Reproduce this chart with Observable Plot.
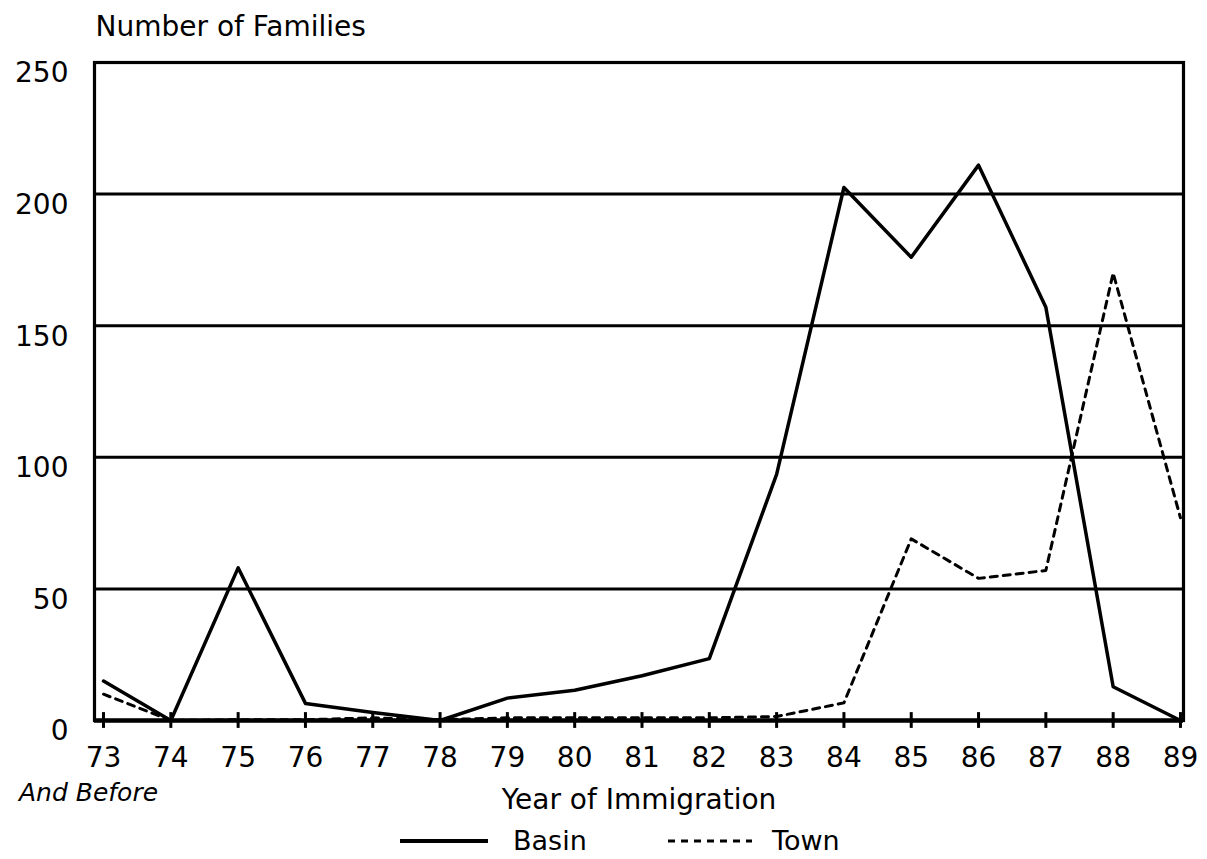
<!DOCTYPE html>
<html>
<head>
<meta charset="utf-8">
<script src="https://cdn.jsdelivr.net/npm/d3@7"></script>
<script src="https://cdn.jsdelivr.net/npm/@observablehq/plot@0.6"></script>
<style>
  html, body { margin: 0; padding: 0; background: #fff; }
  #wrap { position: relative; width: 1207px; height: 859px; overflow: hidden; font-family: "DejaVu Sans", sans-serif; }
  #legend { position: absolute; left: 0; top: 822px; width: 1207px; height: 37px; }
  .lg-item { position: absolute; top: 0; height: 37px; display: flex; align-items: center; font-size: 27px; color: #000; }
</style>
</head>
<body>
<div id="wrap">
  <div id="chart"></div>
  <div id="legend"></div>
</div>
<script>
// ---- data ----
const years = [73, 74, 75, 76, 77, 78, 79, 80, 81, 82, 83, 84, 85, 86, 87, 88, 89];
const basin = [15, 0, 58, 6.5, 3, 0, 8.5, 11.5, 17, 23.5, 93.5, 202.5, 176, 211, 157, 12.8, 0];
const town  = [10, 0, 0.3, 0.3, 1, 0.3, 1, 1, 1, 1, 1.5, 6.7, 69, 54, 57, 170, 77];
const yTicks = [0, 50, 100, 150, 200, 250];
const xTickLabels = ["73", "74", "75", "76", "77", "78", "79", "80", "81", "82", "83", "84", "85", "86", "87", "88", "89"];
const seriesNames = ["Basin", "Town"];
const yTitle = "Number of Families";
const xTitle = "Year of Immigration";
const firstYearNote = "And Before";

const table = years.map((yr, i) => ({year: yr, basin: basin[i], town: town[i]}));

const chart = Plot.plot({
  width: 1207,
  height: 822,
  marginLeft: 94,
  marginRight: 24,
  marginTop: 62,
  marginBottom: 102,
  x: {domain: [72.866, 89.045]},
  y: {domain: [0, 250]},
  style: {fontFamily: "'DejaVu Sans', sans-serif", color: "#000", background: "#fff", overflow: "visible"},
  marks: [
    Plot.ruleY(yTicks.slice(1, -1), {stroke: "#000", strokeWidth: 3}),
    Plot.frame({stroke: "#000", strokeWidth: 3.2}),
    Plot.ruleY([0], {stroke: "#000", strokeWidth: 4.5}),
    Plot.ruleX(years, {y1: -3, y2: 3, stroke: "#000", strokeWidth: 3}),
    Plot.line(table, {x: "year", y: "town", stroke: "#000", strokeWidth: 3, strokeDasharray: "7,6"}),
    Plot.line(table, {x: "year", y: "basin", stroke: "#000", strokeWidth: 3.5}),
    Plot.axisY(yTicks, {tickSize: 0, tickPadding: 26, fontSize: 28, dy: 11, fill: "#000", label: null}),
    Plot.axisX(years, {tickSize: 0, tickPadding: 27, fontSize: 28, fill: "#000", label: null,
      tickFormat: (d) => xTickLabels[years.indexOf(d)]}),
    Plot.text([firstYearNote], {x: () => years[0], frameAnchor: "bottom", dy: 80, dx: -15,
      fontSize: 25, fontStyle: "italic", fill: "#000"}),
    Plot.text([xTitle], {frameAnchor: "bottom", dy: 88, fontSize: 28, fill: "#000"}),
    Plot.text([yTitle], {frameAnchor: "top-left", textAnchor: "start", dx: 1, dy: -46, fontSize: 28, fill: "#000"})
  ]
});
document.getElementById("chart").appendChild(chart);

// ---- legend ----
const legend = document.getElementById("legend");
const legendLayout = [
  {left: 400, swatch: 88, gap: 25, dash: null},
  {left: 668, swatch: 84, gap: 20, dash: "7,6"}
];
seriesNames.forEach((name, i) => {
  const L = legendLayout[i];
  const item = document.createElement("div");
  item.className = "lg-item";
  item.style.left = L.left + "px";
  const svg = document.createElementNS("http://www.w3.org/2000/svg", "svg");
  svg.setAttribute("width", L.swatch);
  svg.setAttribute("height", 10);
  svg.style.marginRight = L.gap + "px";
  const ln = document.createElementNS("http://www.w3.org/2000/svg", "line");
  ln.setAttribute("x1", 0); ln.setAttribute("x2", L.swatch);
  ln.setAttribute("y1", 5); ln.setAttribute("y2", 5);
  ln.setAttribute("stroke", "#000");
  ln.setAttribute("stroke-width", L.dash ? 3 : 4);
  if (L.dash) ln.setAttribute("stroke-dasharray", L.dash);
  svg.appendChild(ln);
  item.appendChild(svg);
  const span = document.createElement("span");
  span.textContent = name;
  item.appendChild(span);
  legend.appendChild(item);
});
</script>
</body>
</html>
